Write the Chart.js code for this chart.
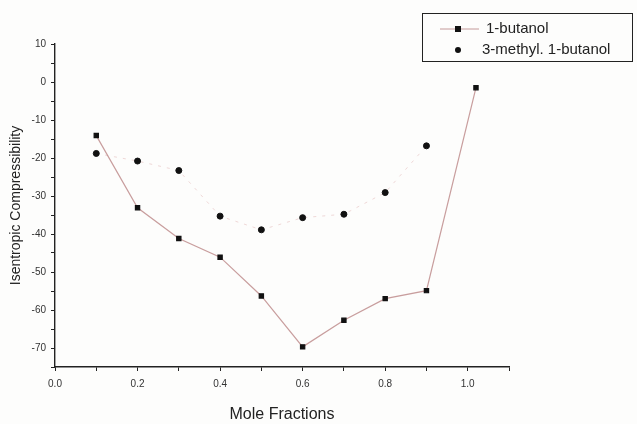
<!DOCTYPE html>
<html>
<head>
<meta charset="utf-8">
<script src="https://cdn.jsdelivr.net/npm/chart.js@4"></script>
<style>
  html, body { margin: 0; padding: 0; background: #fdfdfc; }
  #wrap { width: 637px; height: 424px; }
</style>
</head>
<body>
<div id="wrap"><canvas id="isentropic" width="637" height="424"></canvas></div>
<script>
// values
const butanolX = [0.1, 0.2, 0.3, 0.4, 0.5, 0.6, 0.7, 0.8, 0.9, 1.02];
const butanolY = [-14.1, -33.1, -41.2, -46.1, -56.3, -69.7, -62.7, -57, -54.9, -1.5];
const methylX = [0.1, 0.2, 0.3, 0.4, 0.5, 0.6, 0.7, 0.8, 0.9];
const methylY = [-18.8, -20.8, -23.3, -35.3, -38.9, -35.7, -34.8, -29.1, -16.8];
const seriesNames = ["1-butanol", "3-methyl. 1-butanol"];

const toPoints = (xs, ys) => xs.map((x, i) => ({ x: x, y: ys[i] }));

const fontFamily = "'Liberation Sans', Arial, sans-serif";

// legend box in the top right corner, drawn by hand
const legendBox = {
  id: "legendBox",
  afterDraw(chart) {
    const ctx = chart.ctx;
    ctx.save();
    ctx.strokeStyle = "#222";
    ctx.lineWidth = 1;
    ctx.strokeRect(422.5, 13.5, 210, 48);
    // 1-butanol: line with square
    ctx.strokeStyle = "#c49a9a";
    ctx.beginPath();
    ctx.moveTo(440, 29);
    ctx.lineTo(479, 29);
    ctx.stroke();
    ctx.fillStyle = "#111";
    ctx.fillRect(455, 26, 6, 6);
    // 3-methyl: dot only
    ctx.beginPath();
    ctx.arc(458, 50, 3, 0, Math.PI * 2);
    ctx.fill();
    ctx.font = "15px " + fontFamily;
    ctx.fillStyle = "#222";
    ctx.textBaseline = "middle";
    ctx.fillText(seriesNames[0], 486, 29);
    ctx.fillText(seriesNames[1], 482, 50);
    ctx.restore();
  },
};

const ctx = document.getElementById("isentropic").getContext("2d");

new Chart(ctx, {
  type: "scatter",
  data: {
    datasets: [
      {
        label: seriesNames[0],
        data: toPoints(butanolX, butanolY),
        showLine: true,
        borderColor: "rgba(190,140,140,0.85)",
        borderWidth: 1.2,
        pointStyle: "rect",
        pointRadius: 3,
        pointBackgroundColor: "#111",
        pointBorderColor: "#111",
      },
      {
        label: seriesNames[1],
        data: toPoints(methylX, methylY),
        showLine: true,
        borderColor: "rgba(225,180,180,0.5)",
        borderWidth: 1,
        borderDash: [3, 6],
        pointStyle: "circle",
        pointRadius: 3,
        pointBackgroundColor: "#111",
        pointBorderColor: "#111",
      },
    ],
  },
  options: {
    responsive: false,
    animation: false,
    layout: {
      padding: { top: 44, right: 128, bottom: 0, left: 0 },
    },
    plugins: {
      legend: { display: false },
      tooltip: { enabled: false },
    },
    scales: {
      x: {
        type: "linear",
        min: 0,
        max: 1.1,
        afterFit: (scale) => {
          scale.height = 57;
        },
        border: { display: true, color: "#222", width: 1.4 },
        grid: {
          drawOnChartArea: false,
          drawTicks: true,
          tickLength: 4,
          tickColor: "#222",
        },
        ticks: {
          stepSize: 0.1,
          color: "#333",
          font: { size: 10, family: fontFamily },
          padding: 7,
          maxRotation: 0,
          callback: (v) => {
            const r = Math.round(v * 10);
            return r % 2 === 0 && r <= 10 ? (r / 10).toFixed(1) : "";
          },
        },
        title: {
          display: true,
          text: "Mole Fractions",
          color: "#222",
          font: { size: 16, family: fontFamily },
          padding: { top: 0, bottom: 0 },
        },
      },
      y: {
        min: -75,
        max: 10,
        afterFit: (scale) => {
          scale.width = 55;
        },
        border: { display: true, color: "#222", width: 1.4 },
        grid: {
          drawOnChartArea: false,
          drawTicks: true,
          tickLength: 4,
          tickColor: "#222",
        },
        ticks: {
          stepSize: 5,
          color: "#333",
          font: { size: 10, family: fontFamily },
          padding: 5,
          callback: (v) => (v % 10 === 0 ? String(v) : ""),
        },
        title: {
          display: true,
          text: "Isentropic Compressibility",
          color: "#222",
          font: { size: 14, family: fontFamily },
          padding: { top: 8, bottom: 2 },
        },
      },
    },
  },
  plugins: [legendBox],
});
</script>
</body>
</html>
